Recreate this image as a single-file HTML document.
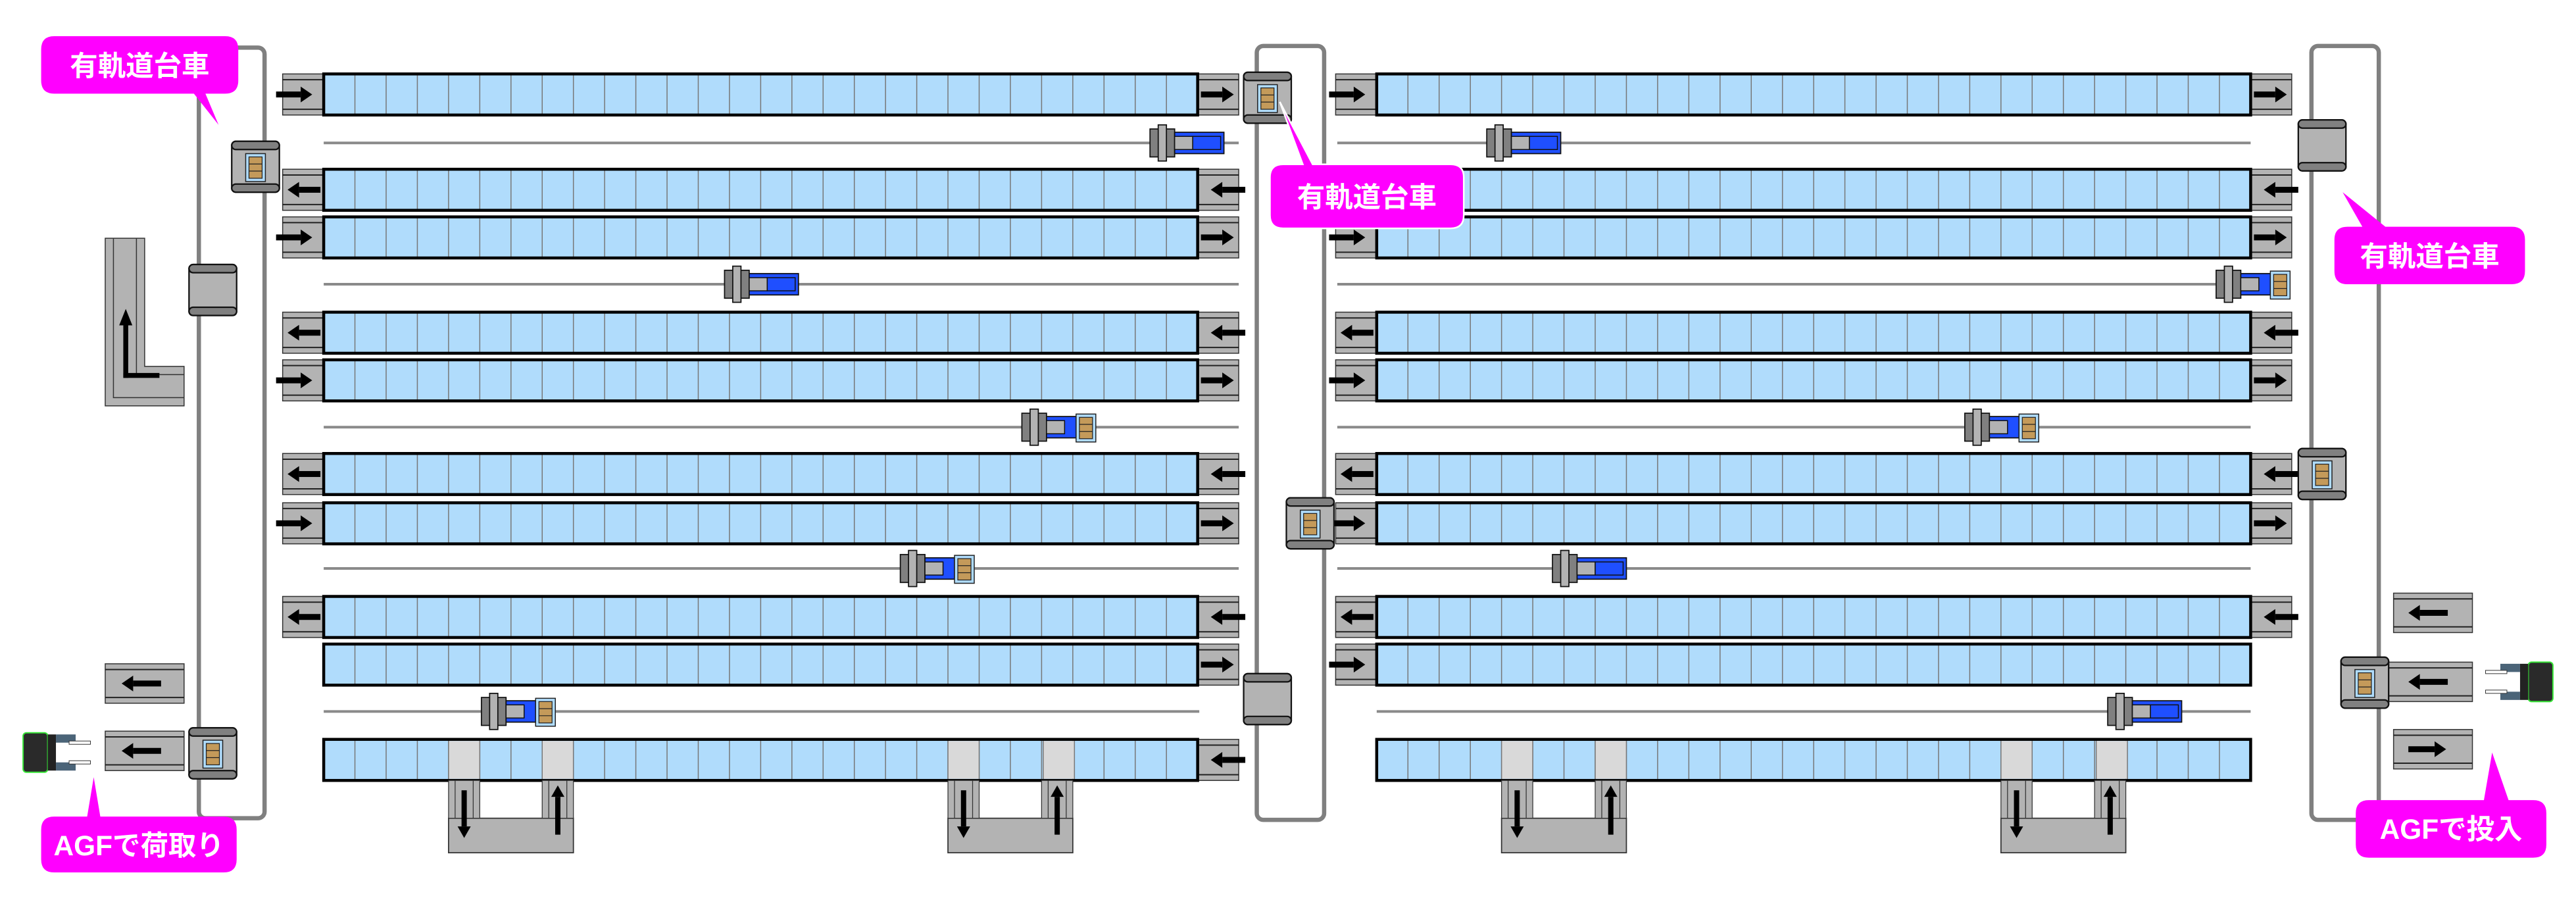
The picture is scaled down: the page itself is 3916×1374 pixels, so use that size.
<!DOCTYPE html>
<html><head><meta charset="utf-8">
<style>
html,body{margin:0;padding:0;background:#fff;}
svg{display:block}
.lbl{font-family:"Liberation Sans","Noto Sans CJK JP",sans-serif;font-weight:bold;fill:#fff;font-size:17px}
</style></head>
<body>
<svg id="s" width="3916" height="1374" viewBox="0 0 1568 550.2" xmlns="http://www.w3.org/2000/svg">
<g id="g"></g>
<g id="labels">
<path d="M33,22 H137 Q145,22 145,30 V49 Q145,57 137,57 H125 L133,76 L118,57 H33 Q25,57 25,49 V30 Q25,22 33,22 Z" fill="#ff00ff"/>
<text class="lbl" x="85" y="46" text-anchor="middle">有軌道台車</text>
<path d="M781,100 H793 L779,62 L799,100 H883 Q891,100 891,108 V131 Q891,139 883,139 H781 Q773,139 773,131 V108 Q773,100 781,100 Z" fill="#ff00ff" stroke="#fff" stroke-width="1"/>
<text class="lbl" x="832" y="126" text-anchor="middle">有軌道台車</text>
<path d="M1429,138 H1438 L1426,117 L1452,138 H1529 Q1537,138 1537,146 V165 Q1537,173 1529,173 H1429 Q1421,173 1421,165 V146 Q1421,138 1429,138 Z" fill="#ff00ff"/>
<text class="lbl" x="1479" y="162" text-anchor="middle">有軌道台車</text>
<path d="M33,497 H53 L57,473 L61,497 H136 Q144,497 144,505 V523 Q144,531 136,531 H33 Q25,531 25,523 V505 Q25,497 33,497 Z" fill="#ff00ff"/>
<text class="lbl" x="84.5" y="520.5" text-anchor="middle">AGFで荷取り</text>
<path d="M1442,487 H1512 L1517,458 L1527,487 H1542 Q1550,487 1550,495 V514 Q1550,522 1542,522 H1442 Q1434,522 1434,514 V495 Q1434,487 1442,487 Z" fill="#ff00ff"/>
<text class="lbl" x="1492" y="510.5" text-anchor="middle">AGFで投入</text>
</g>
</svg>
<script>
(function(){
var NS="http://www.w3.org/2000/svg",g=document.getElementById('g');
function el(t,a){var e=document.createElementNS(NS,t);for(var k in a)e.setAttribute(k,a[k]);g.appendChild(e);return e;}
function rect(x,y,w,h,f,s,sw,rx){return el('rect',{x:x,y:y,width:w,height:h,fill:f,stroke:s||'none','stroke-width':sw||0,rx:rx||0});}
function line(x1,y1,x2,y2,c,w){return el('line',{x1:x1,y1:y1,x2:x2,y2:y2,stroke:c,'stroke-width':w});}
function arrow(x1,x2,y){
  var d=x2>x1?1:-1, hl=7;
  rect(Math.min(x1,x2-d*hl),y-1.8,Math.abs(x2-d*hl-x1),3.6,'#000');
  el('path',{d:'M'+x2+','+y+' L'+(x2-d*hl)+','+(y-4.8)+' L'+(x2-d*hl)+','+(y+4.8)+' Z',fill:'#000'});
}
function varrow(x,y1,y2){var d=y2>y1?1:-1,hl=7;
  rect(x-1.6,Math.min(y1,y2-d*hl),3.2,Math.abs(y2-d*hl-y1),'#000');
  el('path',{d:'M'+x+','+y2+' L'+(x-4)+','+(y2-d*hl)+' L'+(x+4)+','+(y2-d*hl)+' Z',fill:'#000'});}
function cap(x,y,w,h,dir,ax1,ax2){
  rect(x,y,w,h,'#b3b3b3','#333',0.6);
  line(x,y+3.5,x+w,y+3.5,'#222',0.8);line(x,y+h-3.5,x+w,y+h-3.5,'#222',0.8);
  if(dir) arrow(ax1,ax2,y+h/2);
}
function loop(x1,x2,y1,y2){el('rect',{x:x1,y:y1,width:x2-x1,height:y2-y1,rx:4,fill:'none',stroke:'#808080','stroke-width':2.6});}
loop(121,161,29,498);loop(765,806,28,499);loop(1407,1448,28,499);
var rows=[45,103,132,190,219,276,306,363,392,450];
function conv(x0,y,grey){
  rect(x0,y,532,25,'#b0dcfc');
  for(var i=1;i<28;i++){line(x0+i*19,y,x0+i*19,y+25,'#777',0.6);}
  (grey||[]).forEach(function(c){rect(c,y+1,19,23,'#d9d9d9');line(c,y,c,y+25,'#777',0.6);line(c+19,y,c+19,y+25,'#777',0.6);});
  rect(x0,y,532,25,'none','#000',1.8);
}
var L=[['r','r'],['l','l'],['r','r'],['l','l'],['r','r'],['l','l'],['r','r'],['l','l'],[null,'r'],[null,'l']];
var R=[['r','r'],['l','l'],['r','r'],['l','l'],['r','r'],['l','l'],['r','r'],['l','l'],['r',null],[null,null]];
function sec(x0,spec,grey){
  rows.forEach(function(y,i){
    var s=spec[i];
    if(s[0]){cap(x0-25,y,25,25,1,s[0]=='r'?x0-29:x0-2,s[0]=='r'?x0-7:x0-22);}
    if(s[1]){cap(x0+532,y,25,25,1,s[1]=='r'?x0+534:x0+561,s[1]=='r'?x0+554:x0+540);}
    conv(x0,y,i==9?grey:null);
  });
}
function gl(x1,x2,y){line(x1,y,x2,y,'#8a8a8a',1.6);}
[87,173,260,346].forEach(function(y){gl(197,754,y);gl(814,1370,y);});
gl(197,730,433);gl(838,1370,433);
sec(197,L,[273,330,577,635]);
sec(838,R,[914,971,1218,1276]);
function port(x){
  rect(x,498,76,21,'#b3b3b3','#333',0.7);
  [x,x+57].forEach(function(px){rect(px,475,19,23,'#b3b3b3','#333',0.5);line(px+4,475,px+4,498,'#333',0.5);line(px+15,475,px+15,498,'#333',0.5);});
  varrow(x+9.5,481,510);varrow(x+66.5,508,478);
}
[273,577,914,1218].forEach(port);
function load(x,y){rect(x,y-8,12,17,'#b0dcfc','#222',0.6);rect(x+2,y-6,8,13,'#c49a5a','#222',0.5);line(x+2,y-1.7,x+10,y-1.7,'#222',0.5);line(x+2,y+2.6,x+10,y+2.6,'#222',0.5);}
function agv(x,y,ld){
  rect(x,y-8.5,15,17,'#808080','#111',0.7);
  rect(x+5,y-11,5,22,'#b3b3b3','#111',0.7);
  rect(x+15,y-6.5,(ld?18:30),13,'#1f4fff','#111',0.7);
  rect(x+15,y-4,11,8,'#b3b3b3','#111',0.6);
  if(ld){load(x+33,y);} else {rect(x+26,y-4,17,8,'#1f4fff','#111',0.6);}
}
agv(700,87,0);agv(441,173,0);agv(622,260,1);agv(548,346,1);agv(293,433,1);
agv(905,87,0);agv(1349,173,1);agv(1196,260,1);agv(945,346,0);agv(1283,433,0);
function cart(x,y,ld){
  rect(x,y,29,31,'#b3b3b3','#111',0.9,2.5);
  rect(x,y,29,5,'#808080','#111',0.9,2.5);rect(x,y+26,29,5,'#808080','#111',0.9,2.5);
  if(ld) load(x+8.5,y+15.5);
}
cart(141,86,1);cart(115,161,0);
cart(757,44,1);cart(783,303,1);cart(757,410,0);
cart(1399,73,0);cart(1399,273,1);
el('path',{d:'M64,145 H88 V223 H112 V247 H64 Z',fill:'#b3b3b3',stroke:'#333','stroke-width':0.6});
el('path',{d:'M69,145 V242 H112 M83,145 V228 H112',fill:'none',stroke:'#333','stroke-width':0.6});
rect(75,195,3,35,'#000');rect(75,227,22,3,'#000');el('path',{d:'M76.5,188 L72.5,198 L80.5,198 Z',fill:'#000'});
cap(64,404,48,24,1,98,74);cap(64,445,48,24,1,98,74);
cap(1457,361,48,24,1,1490,1466);cap(1441,403,64,24,1,1490,1466);cap(1457,444,48,24,1,1466,1489);
cart(1425,400,1);
cart(115,443,1);
function agf(x,y,flip){
  var w=function(px,ww){return flip?(2*x+42-px-ww):px;};
  rect(w(x,15),y,15,24,'#2a2a2a','#37e637',0.8,2);
  rect(w(x+15,5),y+1,5,22,'#222');
  rect(w(x+20,12),y+1,12,5,'#4b6478');rect(w(x+20,12),y+18,12,5,'#4b6478');
  rect(w(x+28,13),y+5,13,2,'#fff','#333',0.4);rect(w(x+28,13),y+17,13,2,'#fff','#333',0.4);
}
agf(14,446,false);agf(1512,403,true);
})();
</script>
</body></html>
